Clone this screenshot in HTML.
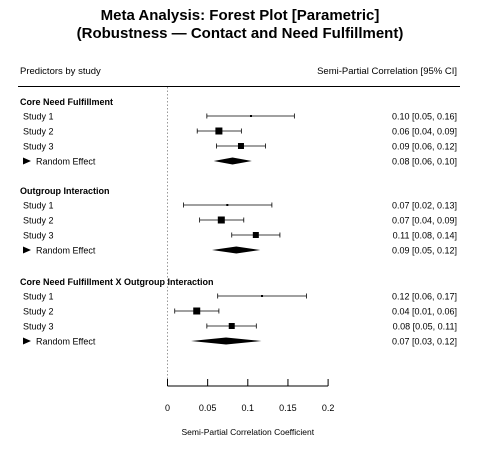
<!DOCTYPE html>
<html><head><meta charset="utf-8"><style>
body{margin:0;background:#fff}
svg text{font-family:"Liberation Sans",Arial,sans-serif;fill:#000}
</style></head><body>
<svg id="c" width="480" height="458">
<text x="240" y="20" text-anchor="middle" font-size="15" font-weight="bold">Meta Analysis: Forest Plot [Parametric]</text>
<text x="240" y="38" text-anchor="middle" font-size="15" font-weight="bold">(Robustness — Contact and Need Fulfillment)</text>
<text x="20" y="74" font-size="9.5">Predictors by study</text>
<text x="457" y="74" text-anchor="end" font-size="9.5">Semi-Partial Correlation [95% CI]</text>
<line x1="18" y1="86.5" x2="460" y2="86.5" stroke="#000" stroke-width="1"/>
<g id="plot"></g>
</svg>
<script>
const groups=["Core Need Fulfillment","Outgroup Interaction","Core Need Fulfillment X Outgroup Interaction"];
const studyLabels=["Study 1","Study 2","Study 3"];
const est=[[0.104,0.064,0.0915],[0.0745,0.067,0.110],[0.1177,0.0364,0.080]];
const lo=[[0.049,0.037,0.061],[0.020,0.040,0.080],[0.0625,0.009,0.049]];
const hi=[[0.158,0.092,0.122],[0.130,0.095,0.140],[0.173,0.064,0.1106]];
const sqSize=[[2,7,6],[2,7,6],[2,7,6]];
const reEst=[0.081,0.0857,0.0729];
const reLo=[0.0575,0.0554,0.0293];
const reHi=[0.105,0.1156,0.117];
const studyText=[["0.10 [0.05, 0.16]","0.06 [0.04, 0.09]","0.09 [0.06, 0.12]"],["0.07 [0.02, 0.13]","0.07 [0.04, 0.09]","0.11 [0.08, 0.14]"],["0.12 [0.06, 0.17]","0.04 [0.01, 0.06]","0.08 [0.05, 0.11]"]];
const reText=["0.08 [0.06, 0.10]","0.09 [0.05, 0.12]","0.07 [0.03, 0.12]"];
const ticks=[0,0.05,0.1,0.15,0.2];
const tickLabels=["0","0.05","0.1","0.15","0.2"];

const NS="http://www.w3.org/2000/svg";
const g=document.getElementById('plot');
const x=v=>167.5+v*803;
function mk(t,a,txt){const e=document.createElementNS(NS,t);for(const k in a)e.setAttribute(k,a[k]);if(txt!=null)e.textContent=txt;g.appendChild(e);return e;}
const gy=[101,190,281];
const zl=mk('line',{x1:x(0),y1:87,x2:x(0),y2:386,stroke:'#999','stroke-dasharray':'1.5,2'});


groups.forEach((gn,i)=>{
 const y0=gy[i];
 const h=mk('text',{x:20,y:y0+4,'font-size':'9','font-weight':'bold'},gn);
 
 
 studyLabels.forEach((s,j)=>{
  const y=y0+15*(j+1);
  const l=mk('text',{x:23,y:y+3.5,'font-size':'9'},s);
  
  
  const ci=mk('line',{x1:x(lo[i][j]),y1:y,x2:x(hi[i][j]),y2:y,stroke:'#000','stroke-width':'0.8'});
  
  
  [lo[i][j],hi[i][j]].forEach(v=>{const c=mk('line',{x1:x(v),y1:y-2.5,x2:x(v),y2:y+2.5,stroke:'#000','stroke-width':'0.8'});
   
   });
  const sz=sqSize[i][j];
  const r=mk('rect',{x:x(est[i][j])-sz/2,y:y-sz/2,width:sz,height:sz,fill:'#000'});
  
  
  const t=mk('text',{x:457,y:y+3.5,'font-size':'9','text-anchor':'end'},studyText[i][j]);
  
  
 });
 const y=y0+60;
 const tri=mk('path',{d:`M23 ${y-3.5}L31 ${y}L23 ${y+3.5}Z`,fill:'#000'});
 
 
 const l=mk('text',{x:36,y:y+3.5,'font-size':'9'},'Random Effect');
 
 
 const d=mk('path',{d:`M${x(reLo[i])} ${y}L${x(reEst[i])} ${y-3.5}L${x(reHi[i])} ${y}L${x(reEst[i])} ${y+3.5}Z`,fill:'#000'});
 
 
 const t=mk('text',{x:457,y:y+3.5,'font-size':'9','text-anchor':'end'},reText[i]);
 
 
});
const ax=mk('line',{x1:x(0),y1:386,x2:x(0.2),y2:386,stroke:'#000','stroke-width':'1'});


ticks.forEach((v,k)=>{
 const tk=mk('line',{x1:x(v),y1:379,x2:x(v),y2:386,stroke:'#000','stroke-width':'1'});
 
 
 const tl=mk('text',{x:x(v),y:411,'font-size':'9','text-anchor':'middle'},tickLabels[k]);
 
 
});
const at=mk('text',{x:x(0.1),y:435,'font-size':'8.5','text-anchor':'middle'},'Semi-Partial Correlation Coefficient');


</script>
</body></html>
